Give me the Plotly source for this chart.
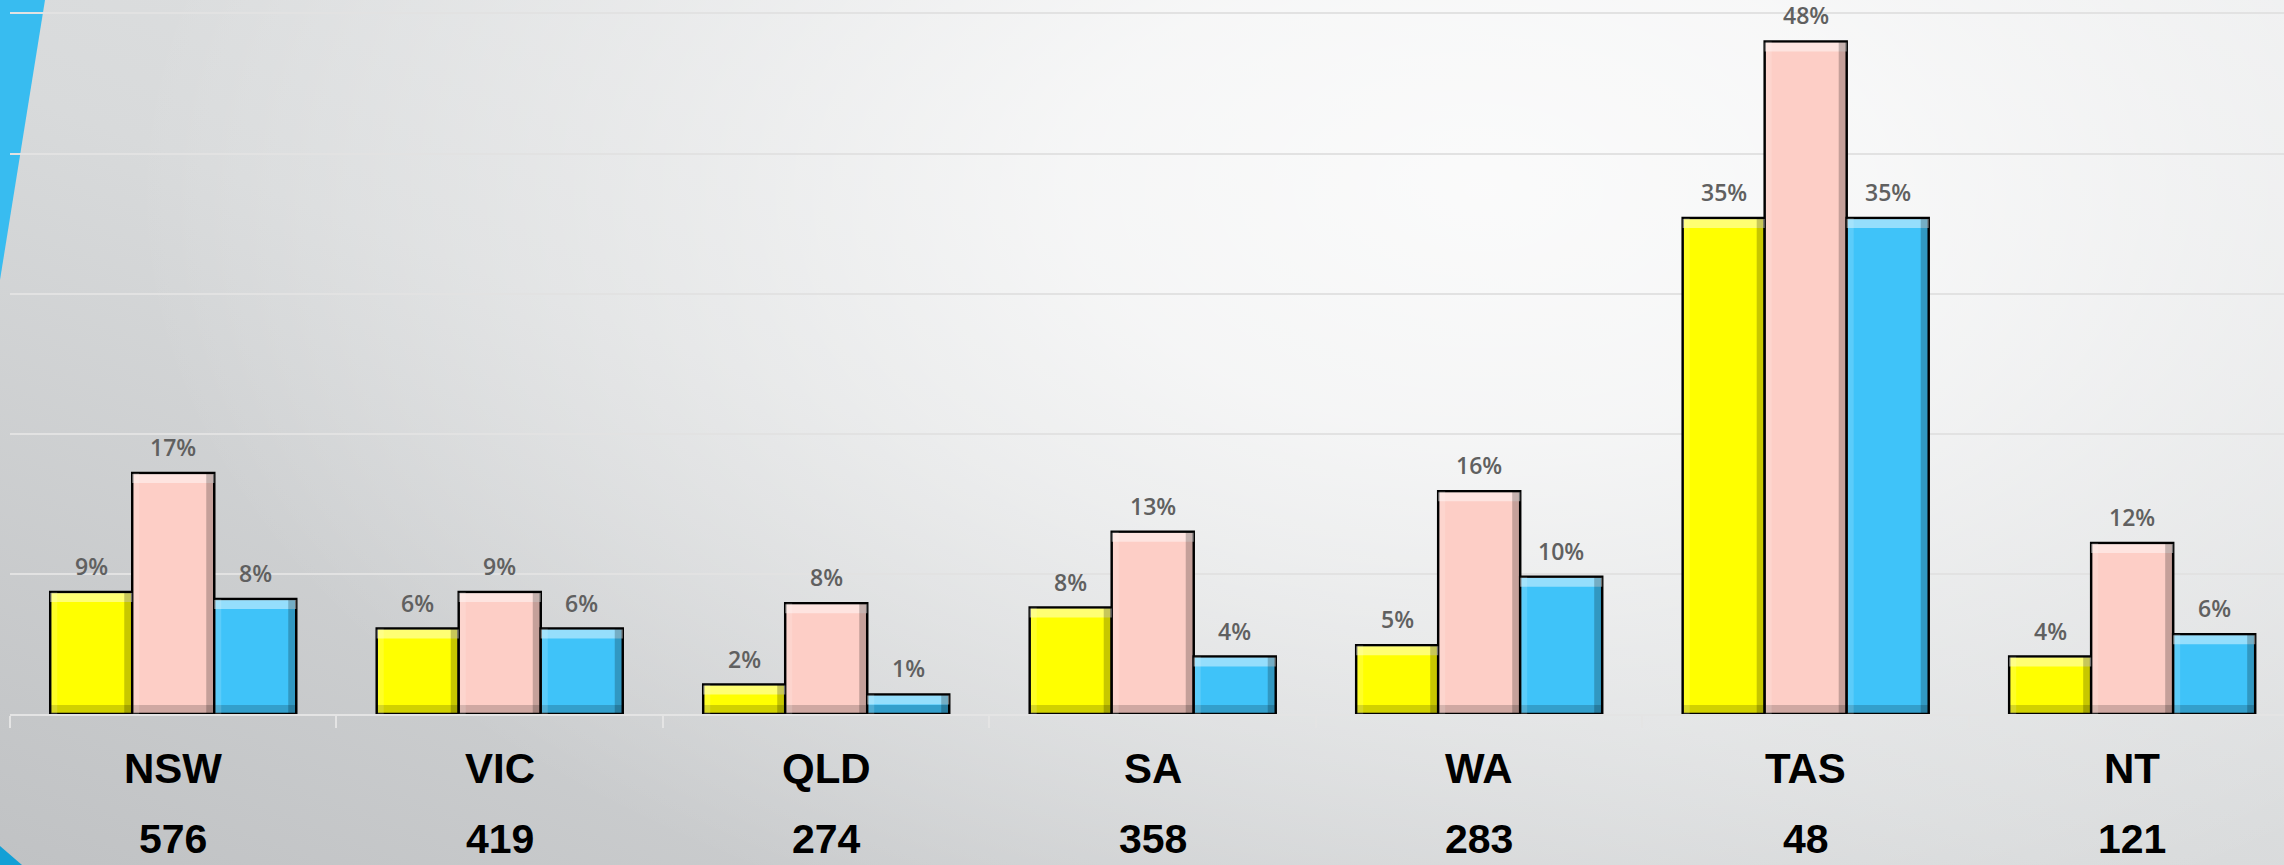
import base64
import plotly.graph_objects as go

states = ["NSW", "VIC", "QLD", "SA", "WA", "TAS", "NT"]
counts = [576, 419, 274, 358, 283, 48, 121]

# bar heights in % (labels are these rounded)
yellow_pct = [8.7, 6.1, 2.1, 7.6, 4.9, 35.4, 4.1]
pink_pct = [17.2, 8.7, 7.9, 13.0, 15.9, 48.0, 12.2]
blue_pct = [8.2, 6.1, 1.4, 4.1, 9.8, 35.4, 5.7]

series = [
    (yellow_pct, "#ffff00"),
    (pink_pct, "#fdcec6"),
    (blue_pct, "#3fc3f9"),
]

W, H = 2284, 865
margin = dict(l=10, r=0, t=12, b=151)
x_lo, x_hi = -0.5, 6.465
bargap = 0.2465

# background: grey radial sheen plus the blue corner shapes
bg_svg = f"""<svg xmlns="http://www.w3.org/2000/svg" width="{W}" height="{H}" viewBox="0 0 {W} {H}">
<defs>
<linearGradient id="lin" x1="1" y1="0" x2="0" y2="1">
<stop offset="0" stop-color="#e8e9ea"/>
<stop offset="0.55" stop-color="#d8dadb"/>
<stop offset="1" stop-color="#c0c2c4"/>
</linearGradient>
<radialGradient id="glow" gradientUnits="userSpaceOnUse" cx="1480" cy="190" r="1350"
 gradientTransform="translate(1480 190) scale(1 0.6) translate(-1480 -190)">
<stop offset="0" stop-color="#ffffff" stop-opacity="0.85"/>
<stop offset="0.3" stop-color="#ffffff" stop-opacity="0.72"/>
<stop offset="0.65" stop-color="#ffffff" stop-opacity="0.35"/>
<stop offset="1" stop-color="#ffffff" stop-opacity="0"/>
</radialGradient>
</defs>
<rect width="{W}" height="{H}" fill="url(#lin)"/>
<rect width="{W}" height="{H}" fill="url(#glow)"/>
<polygon points="0,0 45,0 0,280" fill="#38bcf0"/>
<polygon points="0,846 22,865 0,865" fill="#12a0d6"/>
</svg>"""
bg_uri = "data:image/svg+xml;base64," + base64.b64encode(bg_svg.encode()).decode()

fig = go.Figure()
for vals, color in series:
    fig.add_trace(go.Bar(
        x=states,
        y=vals,
        marker=dict(color=color, line=dict(color="#000000", width=2.5)),
        hoverinfo="x+y",
        showlegend=False,
    ))

plot_w = W - margin["l"] - margin["r"]
plot_h = H - margin["t"] - margin["b"]
cat_px = plot_w / (x_hi - x_lo)
bar_w = (1 - bargap) / 3          # bar width in category units
bar_px = cat_px * bar_w

annotations = []
shapes = []
for k, (vals, _) in enumerate(series):
    for i, (st, v) in enumerate(zip(states, vals)):
        annotations.append(dict(
            x=st, y=v, xref="x", yref="y",
            text=f"{round(v)}%", showarrow=False,
            xshift=(k - 1) * bar_px, yshift=26, yanchor="middle",
            font=dict(family="Open Sans", size=23, color="#606060", weight=600),
        ))
        # bevel look: light top/left, dark bottom/right
        cx = i + (k - 1) * bar_w
        xl, xr = cx - bar_w / 2, cx + bar_w / 2
        bevel = [
            dict(x0=xl, x1=xr, ysizemode="pixel", yanchor=v, y0=-10, y1=-1,
                 fillcolor="rgba(255,255,255,0.45)"),
            dict(x0=xl, x1=xr, ysizemode="pixel", yanchor=0, y0=1, y1=9,
                 fillcolor="rgba(0,0,0,0.18)"),
            dict(xsizemode="pixel", xanchor=xr, x0=-8, x1=-1, y0=0, y1=v,
                 fillcolor="rgba(0,0,0,0.22)"),
            dict(xsizemode="pixel", xanchor=xl, x0=1, x1=7, y0=0, y1=v,
                 fillcolor="rgba(255,255,255,0.15)"),
        ]
        for b in bevel:
            b.update(type="rect", xref="x", yref="y", line=dict(width=0), layer="above")
            shapes.append(b)

for st, n in zip(states, counts):
    annotations.append(dict(
        x=st, y=0, xref="x", yref="paper", text=st, showarrow=False,
        yshift=-54, yanchor="middle",
        font=dict(family="Liberation Sans, Arial", size=42, color="#000000", weight=700),
    ))
    annotations.append(dict(
        x=st, y=0, xref="x", yref="paper", text=str(n), showarrow=False,
        yshift=-125, yanchor="middle",
        font=dict(family="Liberation Sans, Arial", size=41, color="#000000", weight=700),
    ))

fig.update_layout(
    width=W, height=H,
    margin=margin,
    barmode="group",
    bargap=bargap,
    bargroupgap=0,
    paper_bgcolor="rgba(0,0,0,0)",
    plot_bgcolor="rgba(0,0,0,0)",
    images=[dict(
        source=bg_uri, xref="paper", yref="paper",
        x=-margin["l"] / plot_w, y=1 + margin["t"] / plot_h,
        sizex=W / plot_w, sizey=H / plot_h,
        xanchor="left", yanchor="top", sizing="stretch", layer="below",
    )],
    xaxis=dict(
        range=[x_lo, x_hi],
        showline=True, linecolor="#e4e4e4", linewidth=2,
        ticks="outside", tickson="boundaries", ticklen=12, tickwidth=2,
        tickcolor="#e4e4e4", showticklabels=False, showgrid=False,
    ),
    yaxis=dict(
        range=[0, 50.1], dtick=10, showgrid=True, gridcolor="#e2e2e2",
        gridwidth=2, zeroline=False, showticklabels=False,
    ),
    annotations=annotations,
    shapes=shapes,
)

fig.write_html(
    "out.html",
    config={"displayModeBar": False},
    post_script="document.body.style.margin='0';",
)
